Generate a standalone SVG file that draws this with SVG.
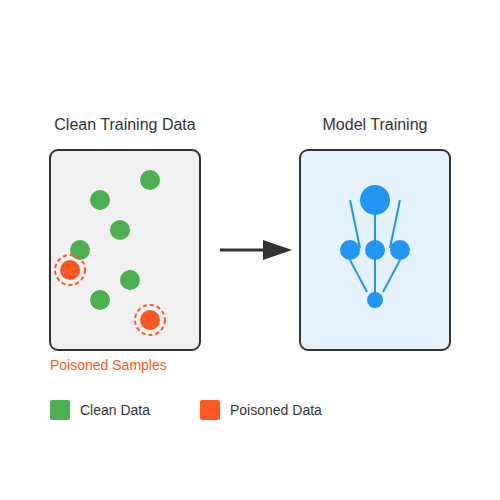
<svg xmlns="http://www.w3.org/2000/svg" width="500" height="500" viewBox="0 0 500 500">
<defs>
<style>
text{font-family:"Liberation Sans",Arial,sans-serif;fill:#333}
.title{font-size:16px;text-anchor:middle}
.lbl{font-size:14px}
.box{stroke:#333;stroke-width:2}
.clean{fill:#4caf50}
.poison{fill:#ff5722}
.ring{fill:none;stroke:#ff5722;stroke-width:2;stroke-dasharray:4 3}
.nn{fill:#2196f3}
.nl{stroke:#2196f3;stroke-width:2;fill:none}
</style>
<marker id="ah" markerWidth="10" markerHeight="7" refX="0" refY="3.5" orient="auto" markerUnits="userSpaceOnUse" viewBox="0 0 10 7"><polygon points="0,0 10,3.5 0,7" fill="#333"/></marker>
</defs>
<rect width="500" height="500" fill="#fff"/>
<g id="data-box">
<rect class="box" x="50" y="150" width="150" height="200" rx="8" fill="#f0f0f0"/>
<text class="title" x="125" y="130">Clean Training Data</text>
<circle class="clean" cx="150" cy="180" r="10"/>
<circle class="clean" cx="100" cy="200" r="10"/>
<circle class="clean" cx="120" cy="230" r="10"/>
<circle class="clean" cx="80" cy="250" r="10"/>
<circle class="clean" cx="130" cy="280" r="10"/>
<circle class="clean" cx="100" cy="300" r="10"/>
<circle class="poison" cx="70" cy="270" r="10"/>
<circle class="ring" cx="70" cy="270" r="15"/>
<circle class="poison" cx="150" cy="320" r="10"/>
<circle class="ring" cx="150" cy="320" r="15"/>
<text class="lbl" x="50" y="370" style="fill:#ff5722">Poisoned Samples</text>
</g>
<g id="model-box">
<rect class="box" x="300" y="150" width="150" height="200" rx="8" fill="#e3f2fd"/>
<text class="title" x="375" y="130">Model Training</text>
<line class="nl" x1="350" y1="200" x2="360" y2="248"/>
<line class="nl" x1="400" y1="200" x2="390" y2="248"/>
<line class="nl" x1="375" y1="210" x2="375" y2="300"/>
<line class="nl" x1="350" y1="260" x2="367" y2="292"/>
<line class="nl" x1="400" y1="260" x2="383" y2="292"/>
<circle class="nn" cx="375" cy="200" r="15"/>
<circle class="nn" cx="350" cy="250" r="10"/>
<circle class="nn" cx="375" cy="250" r="10"/>
<circle class="nn" cx="400" cy="250" r="10"/>
<circle class="nn" cx="375" cy="300" r="8"/>
</g>
<g id="connectors">
<line x1="220" y1="250" x2="263" y2="250" stroke="#333" stroke-width="3"/>
<polygon points="263,240 292,250 263,260" fill="#333"/>
</g>
<g id="legend">
<rect class="clean" x="50" y="400" width="20" height="20" rx="2"/>
<text class="lbl" x="80" y="415">Clean Data</text>
<rect class="poison" x="200" y="400" width="20" height="20" rx="2"/>
<text class="lbl" x="230" y="415">Poisoned Data</text>
</g>
</svg>
